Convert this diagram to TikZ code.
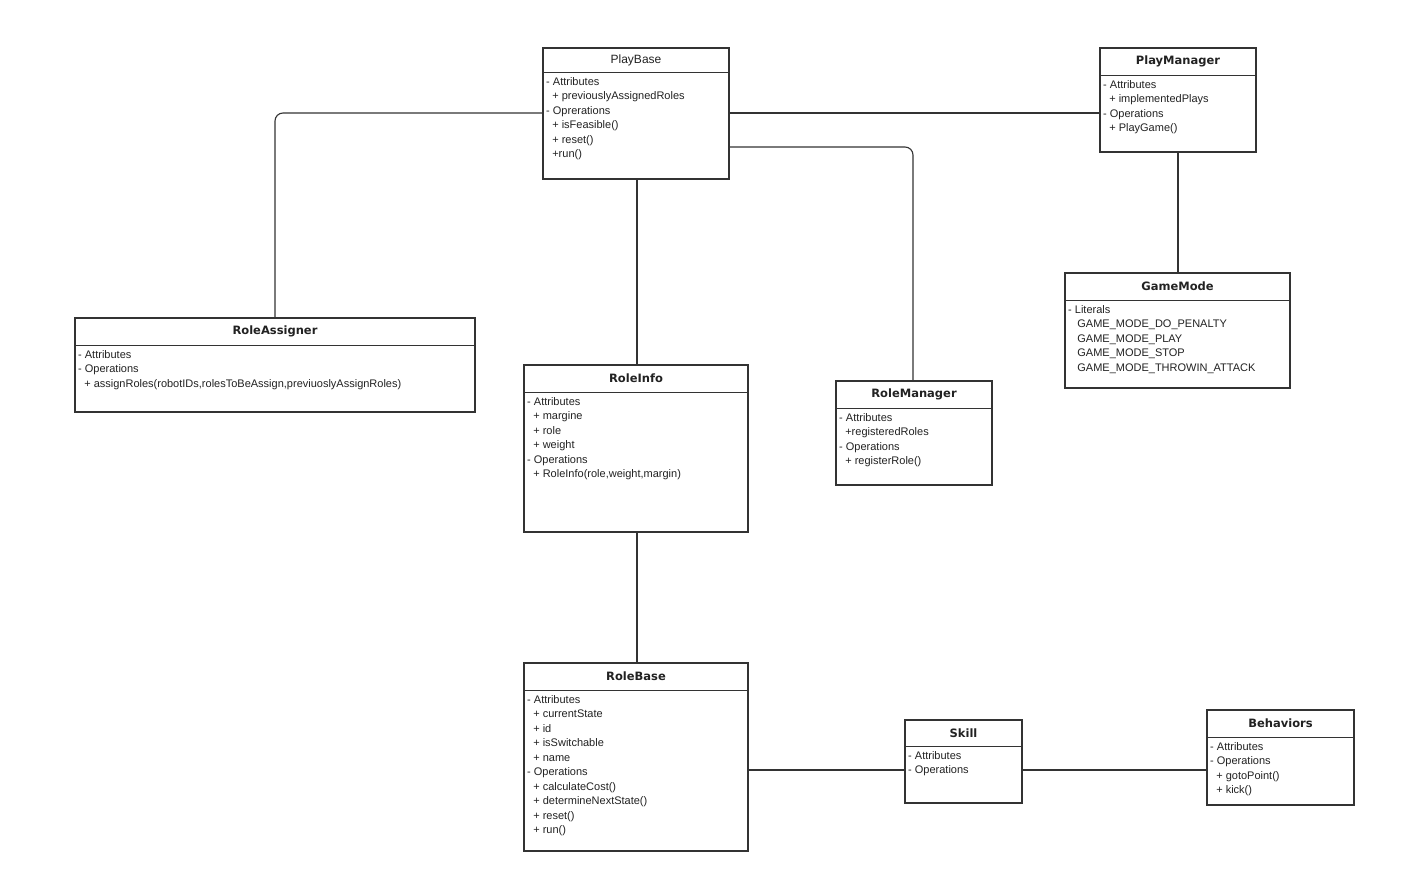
\documentclass[tikz,border=0pt]{standalone}
\usepackage{fontspec}
\setmainfont{Liberation Sans}
\newfontfamily\titlefont{DejaVu Sans}
\definecolor{ln}{HTML}{333333}
\definecolor{tx}{HTML}{222222}
\newcommand\umlbox[8]{%
  \node[box, minimum width={#4-#2}, minimum height={#5-#3}] (#1) at ({(#2+#4)/2},{(#3+#5)/2}) {};
  \draw[ln] (#2,#6) -- (#4,#6);
  \node[ttl] (#1-t) at ({(#2+#4)/2},{(#3+#6)/2}) {#7};
  \node[bdy] (#1-b) at (#2+2,#6+4) {#8};
}
\begin{document}
\begin{tikzpicture}[x=1pt,y=-1pt,
  box/.style={draw=ln, line width=1.1pt, fill=white, inner sep=0pt},
  ttl/.style={font=\titlefont\bfseries\fontsize{11.5}{13}\selectfont, text=tx},
  bdy/.style={anchor=north west, align=left, inner sep=1pt, text=tx, font=\fontsize{11}{14.5}\selectfont},
  conn/.style={draw=ln, line width=1.1pt, rounded corners=8pt}]
\useasboundingbox (0,0) rectangle (1414,889);
\umlbox{pb}{543}{48}{729}{179}{72}{\normalfont\fontsize{12}{13}\selectfont PlayBase}{- Attributes\\\ \ + previouslyAssignedRoles\\- Oprerations\\\ \ + isFeasible()\\\ \ + reset()\\\ \ +run()}
\umlbox{pm}{1100}{48}{1256}{152}{75}{PlayManager}{- Attributes\\\ \ + implementedPlays\\- Operations\\\ \ + PlayGame()}
\umlbox{gm}{1065}{273}{1290}{388}{300}{GameMode}{- Literals\\\ \ \ GAME\_MODE\_DO\_PENALTY\\\ \ \ GAME\_MODE\_PLAY\\\ \ \ GAME\_MODE\_STOP\\\ \ \ GAME\_MODE\_THROWIN\_ATTACK}
\umlbox{ra}{75}{318}{475}{412}{345}{RoleAssigner}{- Attributes\\- Operations\\\ \ + assignRoles(robotIDs,rolesToBeAssign,previuoslyAssignRoles)}
\umlbox{ri}{524}{365}{748}{532}{392}{RoleInfo}{- Attributes\\\ \ + margine\\\ \ + role\\\ \ + weight\\- Operations\\\ \ + RoleInfo(role,weight,margin)}
\umlbox{rm}{836}{381}{992}{485}{408}{RoleManager}{- Attributes\\\ \ +registeredRoles\\- Operations\\\ \ + registerRole()}
\umlbox{rb}{524}{663}{748}{851}{690}{RoleBase}{- Attributes\\\ \ + currentState\\\ \ + id\\\ \ + isSwitchable\\\ \ + name\\- Operations\\\ \ + calculateCost()\\\ \ + determineNextState()\\\ \ + reset()\\\ \ + run()}
\umlbox{sk}{905}{720}{1022}{803}{746}{Skill}{- Attributes\\- Operations}
\umlbox{bh}{1207}{710}{1354}{805}{737}{Behaviors}{- Attributes\\- Operations\\\ \ + gotoPoint()\\\ \ + kick()}
\draw[conn] (pb.west|-0,113) -| (ra.north-|275,0);
\draw[conn] (pb.east|-0,113) -- (pm.west|-0,113);
\draw[conn] (pb.east|-0,147) -| (rm.north-|913,0);
\draw[conn] (pb.south-|637,0) -- (ri.north-|637,0);
\draw[conn] (pm.south-|1178,0) -- (gm.north-|1178,0);
\draw[conn] (ri.south-|637,0) -- (rb.north-|637,0);
\draw[conn] (rb.east|-0,770) -- (sk.west|-0,770);
\draw[conn] (sk.east|-0,770) -- (bh.west|-0,770);
\end{tikzpicture}
\end{document}
